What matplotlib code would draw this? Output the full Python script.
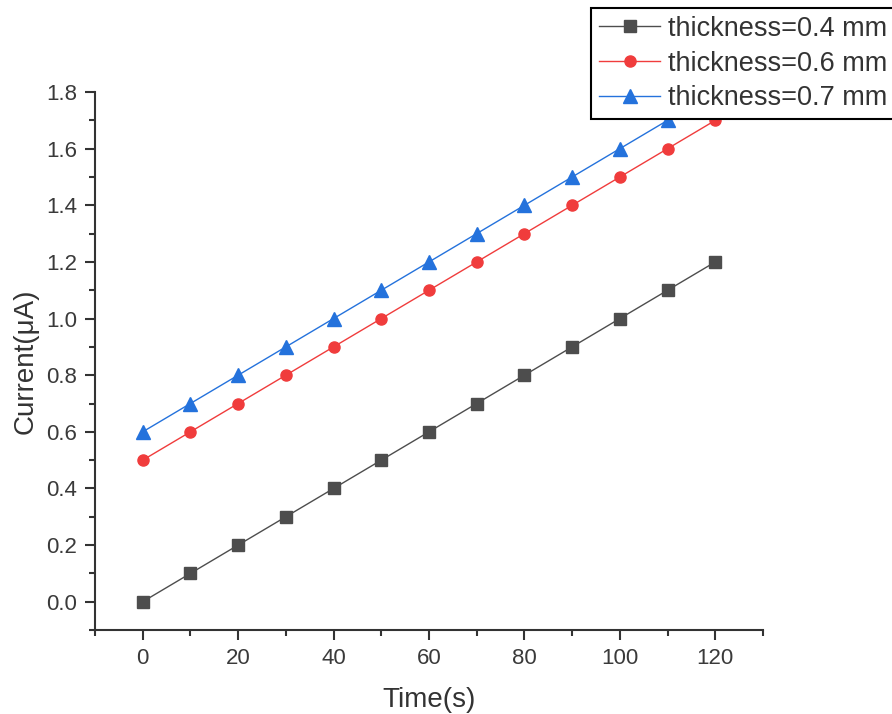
import matplotlib.pyplot as plt
from matplotlib.ticker import MultipleLocator

plt.rcParams['font.family'] = ['Liberation Sans', 'DejaVu Sans']

time_04 = [0, 10, 20, 30, 40, 50, 60, 70, 80, 90, 100, 110, 120]
current_04 = [0.0, 0.1, 0.2, 0.3, 0.4, 0.5, 0.6, 0.7, 0.8, 0.9, 1.0, 1.1, 1.2]

time_06 = [0, 10, 20, 30, 40, 50, 60, 70, 80, 90, 100, 110, 120]
current_06 = [0.5, 0.6, 0.7, 0.8, 0.9, 1.0, 1.1, 1.2, 1.3, 1.4, 1.5, 1.6, 1.7]

time_07 = [0, 10, 20, 30, 40, 50, 60, 70, 80, 90, 100, 110]
current_07 = [0.6, 0.7, 0.8, 0.9, 1.0, 1.1, 1.2, 1.3, 1.4, 1.5, 1.6, 1.7]

fig = plt.figure(figsize=(8.92, 7.14), dpi=100)
ax = fig.add_axes([0.1065, 0.1176, 0.7489, 0.7535])

ax.plot(time_04, current_04, marker='s', linestyle='-', color='#4d4d4d', lw=1.0,
        markersize=8.5, label='thickness=0.4 mm')
ax.plot(time_06, current_06, marker='o', linestyle='-', color='#f03c3c', lw=1.0,
        markersize=8, label='thickness=0.6 mm')
ax.plot(time_07, current_07, marker='^', linestyle='-', color='#2472dc', lw=1.0,
        markersize=10, label='thickness=0.7 mm')

ax.set_xlim(-10, 130)
ax.set_ylim(-0.1, 1.8)
ax.xaxis.set_major_locator(MultipleLocator(20))
ax.xaxis.set_minor_locator(MultipleLocator(10))
ax.yaxis.set_major_locator(MultipleLocator(0.2))
ax.yaxis.set_minor_locator(MultipleLocator(0.1))
ax.yaxis.set_major_formatter(plt.FuncFormatter(lambda v, p: f'{v:.1f}'))

for side in ['top', 'right']:
    ax.spines[side].set_visible(False)
for side in ['left', 'bottom']:
    ax.spines[side].set_linewidth(1.5)
    ax.spines[side].set_color('#333333')

ax.tick_params(which='major', direction='out', length=7, width=1.5, colors='#333333',
               labelsize=16, labelcolor='#3a3a3a', pad=6)
ax.tick_params(which='minor', direction='out', length=4, width=1.5, colors='#333333')

ax.set_xlabel('Time(s)', fontsize=20, color='#333333', labelpad=13)
ax.set_ylabel('Current(\u03bcA)', fontsize=20, color='#333333', labelpad=5)

# legend sits in the figure's top right corner
leg = fig.legend(loc='upper left', bbox_to_anchor=(0.6626, 0.989), fontsize=19.5,
                 frameon=True, fancybox=False, edgecolor='black', framealpha=1,
                 borderpad=0.3, labelspacing=0.32, handlelength=2.25,
                 handletextpad=0.3, borderaxespad=0, handleheight=0.7)
leg.get_frame().set_linewidth(1.5)
for t in leg.get_texts():
    t.set_color('#333333')

fig.savefig('out.png', dpi=100)
